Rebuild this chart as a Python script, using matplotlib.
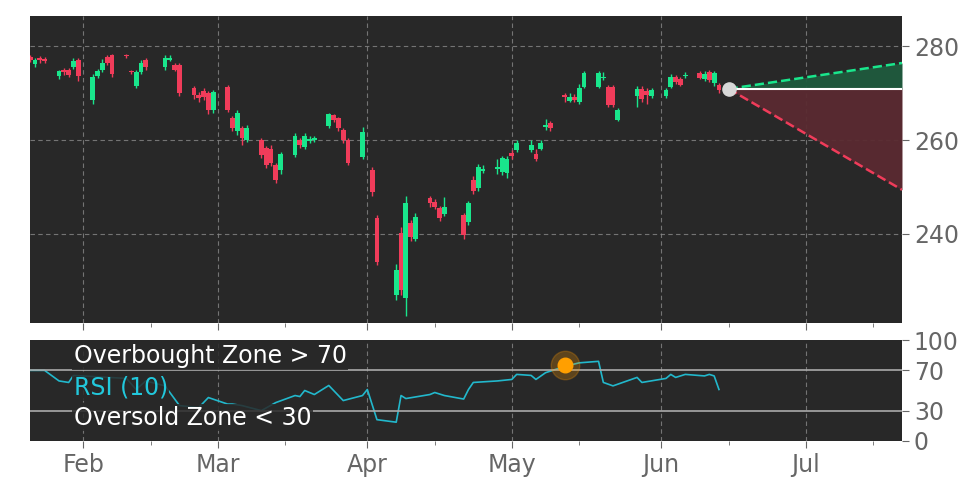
import matplotlib.pyplot as plt
import matplotlib.dates as mdates
import pandas as pd
import numpy as np

# candles: date, open, close, high, low
dates = ['2025-01-21','2025-01-22','2025-01-23','2025-01-24','2025-01-27','2025-01-28','2025-01-29','2025-01-30','2025-01-31',
         '2025-02-03','2025-02-04','2025-02-05','2025-02-06','2025-02-07','2025-02-10','2025-02-11','2025-02-12','2025-02-13','2025-02-14',
         '2025-02-18','2025-02-19','2025-02-20','2025-02-21','2025-02-24','2025-02-25','2025-02-26','2025-02-27','2025-02-28',
         '2025-03-03','2025-03-04','2025-03-05','2025-03-06','2025-03-07','2025-03-10','2025-03-11','2025-03-12','2025-03-13','2025-03-14',
         '2025-03-17','2025-03-18','2025-03-19','2025-03-20','2025-03-21','2025-03-24','2025-03-25','2025-03-26','2025-03-27','2025-03-28','2025-03-31',
         '2025-04-02','2025-04-03','2025-04-07','2025-04-08','2025-04-09','2025-04-10','2025-04-11',
         '2025-04-14','2025-04-15','2025-04-16','2025-04-17','2025-04-21','2025-04-22','2025-04-23','2025-04-24','2025-04-25',
         '2025-04-28','2025-04-29','2025-04-30','2025-05-01','2025-05-02','2025-05-05','2025-05-06','2025-05-07','2025-05-08','2025-05-09',
         '2025-05-12','2025-05-13','2025-05-14','2025-05-15','2025-05-16','2025-05-19','2025-05-20','2025-05-21','2025-05-22','2025-05-23',
         '2025-05-27','2025-05-28','2025-05-29','2025-05-30','2025-06-02','2025-06-03','2025-06-04','2025-06-05','2025-06-06',
         '2025-06-09','2025-06-10','2025-06-11','2025-06-12','2025-06-13']
opens = [277.6,276.2,277.5,277.2,273.6,274.9,275.0,275.6,277.0,
         268.5,273.7,275.0,277.6,278.0,278.2,274.7,271.6,274.5,277.0,
         275.5,277.0,276.0,276.0,271.0,269.6,270.4,270.0,266.4,
         271.3,264.7,261.9,262.6,260.0,260.0,258.3,258.0,254.7,253.6,
         256.8,260.0,258.6,259.8,260.0,263.0,265.3,264.7,262.1,260.0,256.4,
         253.6,243.4,227.0,240.2,226.4,242.3,238.9,
         247.7,246.7,245.5,244.3,244.0,242.5,251.5,249.8,253.4,
         253.8,253.2,253.0,257.2,257.9,257.9,257.0,258.0,262.7,263.6,
         269.6,268.3,269.1,268.0,271.3,271.3,273.2,271.3,271.3,264.3,
         269.4,270.9,270.5,269.4,269.4,271.3,273.4,273.0,273.6,
         274.3,273.0,274.5,272.1,271.7]
closes = [277.0,277.0,277.0,276.8,274.6,274.5,273.9,276.8,273.6,
          273.5,274.6,276.5,276.5,274.0,277.8,274.4,274.5,276.5,275.5,
          277.5,277.5,275.0,270.0,269.6,269.0,269.2,266.4,270.2,
          266.4,262.6,265.7,260.4,262.6,256.8,254.7,255.2,251.5,257.0,
          260.9,259.0,260.9,260.2,260.4,265.5,264.3,262.6,260.0,255.1,261.7,
          249.0,234.0,232.3,228.0,246.6,239.4,243.6,
          246.6,245.8,243.4,245.8,239.8,246.6,249.1,254.3,253.8,
          254.2,256.2,256.0,256.6,259.4,259.0,256.0,259.4,263.2,262.5,
          269.2,269.2,268.6,271.0,274.3,274.3,273.5,267.4,267.4,266.4,
          270.9,268.7,269.6,270.6,270.6,273.4,272.3,271.8,273.8,
          273.2,274.0,272.8,274.3,270.6]
highs = [278.0,277.5,277.8,277.6,275.0,275.4,275.3,277.4,277.5,
         274.0,275.2,277.2,278.2,278.4,278.4,275.0,275.0,277.0,277.4,
         278.0,278.0,276.4,276.4,271.4,270.2,271.0,270.4,270.6,
         271.8,265.2,266.4,263.0,263.2,260.4,258.8,259.0,255.2,257.4,
         261.4,260.4,261.4,260.8,260.8,265.8,265.6,265.0,262.6,260.4,262.8,
         254.2,244.0,233.5,241.5,248.0,243.0,244.5,
         248.0,247.4,246.0,247.8,244.4,247.0,252.4,254.8,254.6,
         256.0,256.6,256.6,257.8,260.0,260.0,258.0,260.0,264.4,264.0,
         270.0,270.0,269.8,272.0,274.8,274.8,274.4,271.8,271.8,266.8,
         271.4,271.4,271.0,271.0,271.0,274.0,273.8,273.4,274.4,
         274.8,274.8,275.0,274.6,272.2]
lows = [276.6,275.6,276.5,276.4,273.0,273.8,273.4,275.2,272.5,
        267.6,273.2,274.5,276.0,273.5,277.5,274.0,271.0,274.0,275.0,
        275.0,276.8,274.6,269.4,268.8,268.0,268.5,265.6,265.8,
        265.9,262.0,261.0,259.0,259.6,256.2,254.0,254.4,250.8,252.8,
        256.3,258.4,258.0,259.4,259.5,262.6,263.8,262.0,259.4,254.6,256.0,
        248.0,233.4,226.0,227.0,222.5,238.6,238.4,
        245.8,245.4,242.8,243.8,239.0,242.0,248.6,249.2,253.0,
        252.8,252.6,252.0,256.0,257.4,257.4,255.6,257.8,262.2,262.0,
        268.0,268.0,268.0,267.6,271.0,271.0,272.8,267.0,267.0,264.0,
        267.0,268.2,267.6,269.0,269.0,271.0,272.0,271.4,273.2,
        273.0,272.6,272.4,271.6,270.0]

# forecast cone
fc_start = '2025-06-15'
fc_end = '2025-07-21'
fc_base = 270.9
fc_upper = 276.4
fc_lower = 249.4

# RSI (10)
rsi_dates = ['2025-01-21','2025-01-24','2025-01-27','2025-01-29','2025-01-30','2025-02-10','2025-02-12','2025-02-14','2025-02-18',
             '2025-02-21','2025-02-25','2025-02-27','2025-03-03','2025-03-04','2025-03-06','2025-03-10','2025-03-13','2025-03-17',
             '2025-03-18','2025-03-19','2025-03-21','2025-03-24','2025-03-27','2025-03-31','2025-04-01','2025-04-03','2025-04-07',
             '2025-04-08','2025-04-09','2025-04-14','2025-04-15','2025-04-17','2025-04-21','2025-04-22','2025-04-23','2025-04-28',
             '2025-05-01','2025-05-02','2025-05-05','2025-05-06','2025-05-08','2025-05-12','2025-05-15','2025-05-19','2025-05-20',
             '2025-05-22','2025-05-27','2025-05-28','2025-06-02','2025-06-03','2025-06-04','2025-06-06','2025-06-10','2025-06-11',
             '2025-06-12','2025-06-13']
rsi_vals = [70,70,59.5,58,65,62,51,59.5,54.6,
            35,33,43,36.5,36.5,35,30,38,45,
            44,50,46,55,40,45,51,21,18.5,
            45,42,46,48,45,41.5,51,58,59.5,
            61,66,65,61,67.7,74,77.5,79,58,
            54.6,63,58,62,66,63,66,64.5,66,
            64.5,51]
rsi_peak_date = '2025-05-12'
rsi_peak = 75

up_c = '#19e68c'
dn_c = '#f03c5a'
bg = '#282828'
tick_c = '#666666'

d = pd.to_datetime(dates)
o = np.array(opens); c = np.array(closes); h = np.array(highs); l = np.array(lows)

fig = plt.figure(figsize=(9.72, 4.86), dpi=100)
ax = fig.add_axes([0.031, 0.335, 0.897, 0.632])
ax2 = fig.add_axes([0.031, 0.093, 0.897, 0.207])

for a in (ax, ax2):
    a.set_facecolor(bg)
    a.grid(True, color='#888888', linestyle=(0, (4, 3)), linewidth=0.8, alpha=0.8)
    a.yaxis.tick_right()
    a.tick_params(colors=tick_c, labelsize=17, length=5)
    a.tick_params(which='minor', colors=tick_c, length=3)
    for s in a.spines.values():
        s.set_visible(False)
    a.set_xlim(pd.Timestamp('2025-01-21'), pd.Timestamp('2025-07-21'))
    a.xaxis.set_major_locator(mdates.MonthLocator())
    a.xaxis.set_minor_locator(mdates.MonthLocator(bymonthday=15))
    a.xaxis.set_major_formatter(mdates.DateFormatter('%b'))
    a.set_axisbelow(True)

up = c >= o
colors = np.where(up, up_c, dn_c)
ax.vlines(d, l, h, colors=colors, linewidth=1)
ax.bar(d, np.abs(c - o), bottom=np.minimum(o, c), width=1.0, color=colors, linewidth=0)

fs, fe = pd.Timestamp(fc_start), pd.Timestamp(fc_end)
ax.fill_between([fs, fe], [fc_base, fc_base], [fc_base, fc_upper], color='#1f5a3e', alpha=0.95, linewidth=0)
ax.fill_between([fs, fe], [fc_base, fc_base], [fc_base, fc_lower], color='#5a2a31', alpha=0.95, linewidth=0)
ax.plot([fs, fe], [fc_base, fc_upper], color=up_c, linestyle='--', linewidth=1.8)
ax.plot([fs, fe], [fc_base, fc_lower], color=dn_c, linestyle='--', linewidth=1.8)
ax.plot([fs, fe], [fc_base, fc_base], color='white', linewidth=1.5)
ax.scatter([fs], [fc_base], s=90, color='#d8d8d8', zorder=5)
ax.set_ylim(221, 286.4)
ax.set_yticks([240, 260, 280])
ax.tick_params(axis='x', which='both', labelbottom=False)

ax2.plot(pd.to_datetime(rsi_dates), rsi_vals, color='#22b8cc', linewidth=1.2)
ax2.axhline(70, color='#aaaaaa', linewidth=1.2)
ax2.axhline(30, color='#aaaaaa', linewidth=1.2)
ax2.scatter([pd.Timestamp(rsi_peak_date)], [rsi_peak], s=420, color='#ff9900', alpha=0.25, zorder=4)
ax2.scatter([pd.Timestamp(rsi_peak_date)], [rsi_peak], s=110, color='#ff9f00', zorder=5)
ax2.set_ylim(0, 100)
ax2.set_yticks([0, 30, 70, 100])
ax2.grid(axis='y', visible=False)

box = dict(facecolor=bg, edgecolor='none', alpha=0.85, pad=1)
ax2.text(0.05, 0.84, 'Overbought Zone > 70', transform=ax2.transAxes, color='white', fontsize=17, va='center', bbox=box)
ax2.text(0.05, 0.53, 'RSI (10)', transform=ax2.transAxes, color='#22c8dc', fontsize=17, va='center', bbox=box)
ax2.text(0.05, 0.23, 'Oversold Zone < 30', transform=ax2.transAxes, color='white', fontsize=17, va='center', bbox=box)

fig.savefig('out.png', dpi=100)
